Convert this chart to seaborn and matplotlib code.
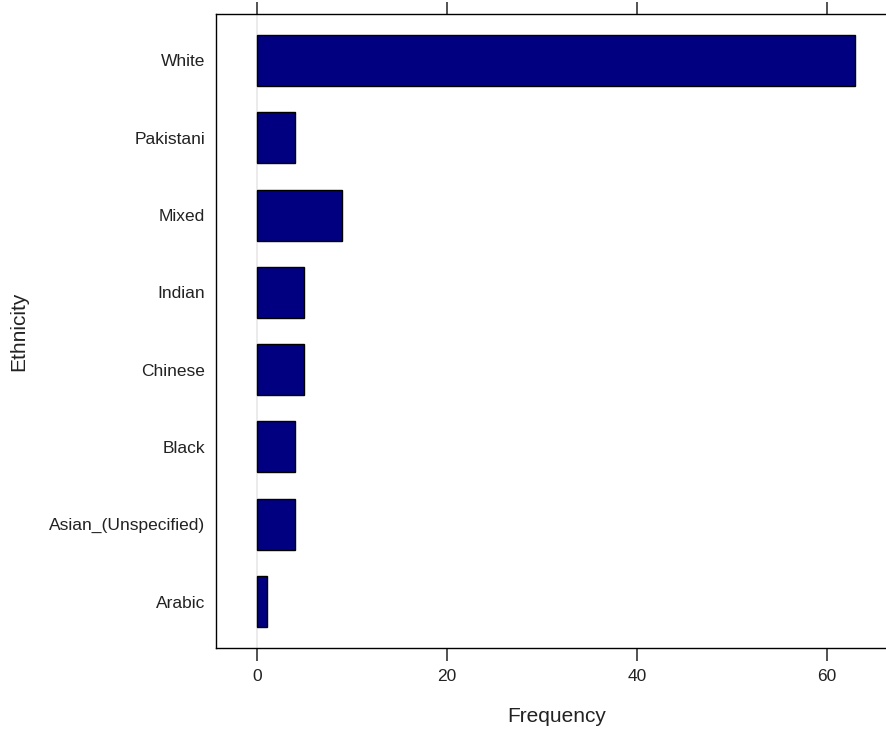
import matplotlib
matplotlib.use("Agg")
import matplotlib.pyplot as plt
import seaborn as sns
import pandas as pd

ethnicity = ["White", "Pakistani", "Mixed", "Indian", "Chinese", "Black",
             "Asian_(Unspecified)", "Arabic"]
frequency = [63, 4, 9, 5, 5, 4, 4, 1]
x_ticks = [0, 20, 40, 60]

df = pd.DataFrame({"Ethnicity": ethnicity, "Frequency": frequency})

sns.set_style("white")
plt.rcParams["font.family"] = ["Liberation Sans", "DejaVu Sans"]

fig = plt.figure(figsize=(8.87, 7.29), dpi=100)
W, H = 887, 729
ax = fig.add_axes([216 / W, (H - 648) / H, (897 - 216) / W, (648 - 14) / H])

# light reference line at zero, behind the bars
ax.axvline(0, color="#e8e8e8", lw=1.2, zorder=0)

sns.barplot(data=df, x="Frequency", y="Ethnicity", order=ethnicity,
            orient="h", color="#000080", edgecolor="black", linewidth=1.0,
            width=0.66, saturation=1, ax=ax, zorder=2)

ax.set_xlim(-4.32, 67.4)
ax.set_ylim(7.6, -0.6)
ax.set_xticks(x_ticks)
ax.set_xticklabels([str(t) for t in x_ticks])

for s in ax.spines.values():
    s.set_color("black")
    s.set_linewidth(1.0)
    s.set_visible(True)

ax.tick_params(axis="x", which="both", bottom=True, top=True,
               labelbottom=True, labeltop=False, direction="out",
               length=9, width=1.3, color="#444444", labelsize=12.5,
               labelcolor="#222222", pad=6)
ax.tick_params(axis="y", length=0, labelsize=12.5, labelcolor="#222222", pad=8)

ax.set_xlabel("Frequency", fontsize=15, color="#222222", labelpad=17)
ax.set_ylabel("Ethnicity", fontsize=15, color="#222222", labelpad=15)

fig.savefig("out.png", dpi=100)
